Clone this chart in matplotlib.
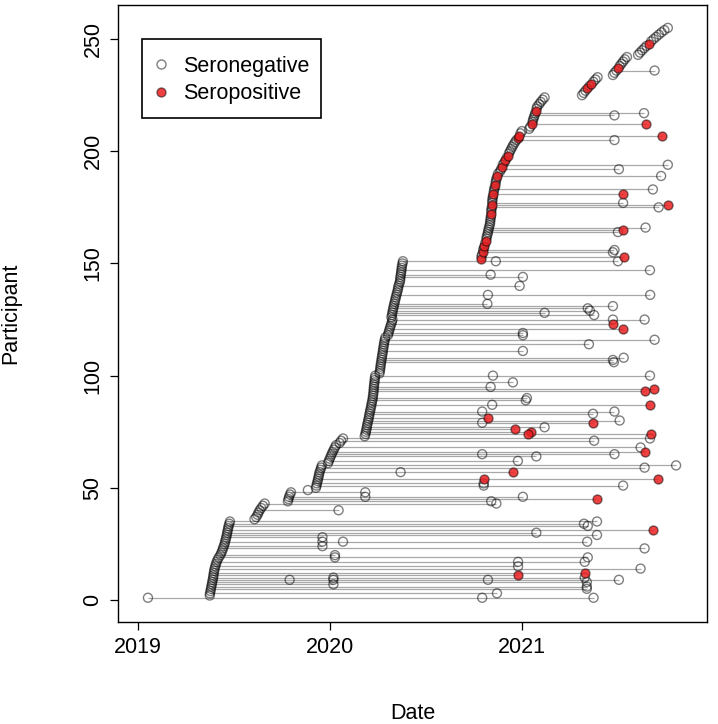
import numpy as np
import matplotlib.pyplot as plt
from matplotlib.lines import Line2D
from matplotlib.patches import Rectangle

plt.rcParams['font.family'] = ['Liberation Sans', 'DejaVu Sans']

# first visit (decimal year) of participants 1..255
baseline = [
    2019.052,
    2019.374, 2019.375, 2019.378, 2019.380, 2019.382, 2019.385, 2019.387, 2019.389, 2019.392, 2019.393, 2019.395, 2019.397, 2019.399,
    2019.403, 2019.406, 2019.410, 2019.415, 2019.421,
    2019.429, 2019.434, 2019.439, 2019.443, 2019.447, 2019.451, 2019.454, 2019.457, 2019.460, 2019.463, 2019.465, 2019.467, 2019.470, 2019.472, 2019.476, 2019.479,
    2019.607, 2019.616, 2019.623, 2019.628, 2019.634, 2019.642, 2019.651, 2019.660,
    2019.781, 2019.784, 2019.787, 2019.792, 2019.797,
    2019.885,
    2019.927, 2019.930, 2019.932, 2019.936, 2019.938, 2019.941, 2019.943, 2019.946, 2019.950, 2019.954, 2019.958,
    2019.990, 2019.994, 2019.999, 2020.004, 2020.009, 2020.014, 2020.020, 2020.026, 2020.032,
    2020.050, 2020.058, 2020.068,
    2020.181,
    2020.185, 2020.187, 2020.190, 2020.192, 2020.194, 2020.197, 2020.199, 2020.202, 2020.204, 2020.206, 2020.209, 2020.211, 2020.214, 2020.216, 2020.218, 2020.221, 2020.223,
    2020.224, 2020.226, 2020.227, 2020.228, 2020.229, 2020.230, 2020.232, 2020.233, 2020.234, 2020.236,
    2020.258, 2020.260, 2020.262, 2020.263, 2020.265, 2020.266, 2020.269, 2020.270, 2020.272, 2020.274, 2020.276, 2020.277, 2020.280, 2020.281, 2020.283, 2020.286, 2020.288,
    2020.302, 2020.305, 2020.308, 2020.312, 2020.315, 2020.319, 2020.323, 2020.326,
    2020.320, 2020.323, 2020.325, 2020.327, 2020.330, 2020.332, 2020.335, 2020.338,
    2020.341, 2020.343, 2020.347, 2020.349, 2020.353, 2020.355, 2020.357, 2020.361, 2020.365,
    2020.366, 2020.367, 2020.369, 2020.371, 2020.372, 2020.374, 2020.375, 2020.378, 2020.380,
    2020.786, 2020.789, 2020.792, 2020.795, 2020.798, 2020.802, 2020.804, 2020.808, 2020.813,
    2020.815, 2020.817, 2020.821, 2020.823, 2020.826, 2020.828, 2020.832,
    2020.834, 2020.835, 2020.837, 2020.838, 2020.839, 2020.840, 2020.841, 2020.843, 2020.844, 2020.845, 2020.846, 2020.847, 2020.849,
    2020.851, 2020.853, 2020.856, 2020.858, 2020.861, 2020.863, 2020.865, 2020.868, 2020.871, 2020.875,
    2020.886, 2020.891, 2020.895, 2020.900,
    2020.908, 2020.914, 2020.920, 2020.926, 2020.932, 2020.938, 2020.944, 2020.950, 2020.956, 2020.964, 2020.971, 2020.978, 2020.985, 2020.992, 2021.000,
    2021.038, 2021.044, 2021.050, 2021.055, 2021.058, 2021.062, 2021.066, 2021.069, 2021.073, 2021.076, 2021.080,
    2021.090, 2021.098, 2021.108, 2021.118,
    2021.313, 2021.322, 2021.331, 2021.341, 2021.351, 2021.361, 2021.372, 2021.383, 2021.394,
    2021.474, 2021.482, 2021.492, 2021.500, 2021.509, 2021.518, 2021.527, 2021.536, 2021.547,
    2021.605, 2021.615, 2021.626, 2021.638, 2021.649, 2021.661, 2021.673, 2021.686, 2021.699, 2021.713, 2021.727, 2021.742, 2021.760,
]

# participants already seropositive at the first visit
baseline_pos = [152, 155, 158, 160, 172, 176, 181, 185, 189, 193, 196, 198,
                206, 207, 212, 218, 228, 230, 237, 248]

# later visits: participant, date, serostatus (1 = positive)
fu_pid = [236, 216, 217, 212, 207, 205, 194, 192, 189, 183, 181, 177, 175, 176,
          166, 165, 164, 156, 155, 153, 151, 151, 147, 145, 144, 140, 136, 136,
          132, 131, 130, 129, 128, 127, 125, 125, 123, 121, 119, 118, 116, 114,
          111, 108, 107, 106, 100, 100, 97, 95, 94, 93, 90, 89, 87, 87,
          84, 84, 83, 81, 80, 79, 79, 77, 76, 75, 74, 74, 72, 71,
          68, 66, 65, 65, 64, 62, 60, 59, 57, 57, 54, 54, 52, 51, 51,
          48, 46, 46, 45, 44, 43, 40, 35, 34, 33, 31, 30, 29, 28,
          26, 26, 26, 24, 23, 20, 19, 19, 17, 17, 15, 14, 12, 11,
          10, 10, 9, 9, 9, 9, 8, 7, 6, 5, 3, 1, 1]
fu_date = [2021.691, 2021.482, 2021.636, 2021.644, 2021.729, 2021.482, 2021.760, 2021.505, 2021.725, 2021.682, 2021.527, 2021.527, 2021.712, 2021.760,
           2021.644, 2021.527, 2021.500, 2021.482, 2021.474, 2021.531, 2020.864, 2021.500, 2021.667, 2020.837, 2021.005, 2020.988, 2021.668, 2020.823,
           2020.820, 2021.474, 2021.343, 2021.354, 2021.118, 2021.376, 2021.474, 2021.639, 2021.474, 2021.527, 2021.005, 2021.005, 2021.691, 2021.349,
           2021.005, 2021.530, 2021.474, 2021.479, 2020.849, 2021.667, 2020.953, 2020.837, 2021.687, 2021.639, 2021.026, 2021.020, 2020.845, 2021.667,
           2020.793, 2021.482, 2021.370, 2020.823, 2021.509, 2020.793, 2021.370, 2021.118, 2020.962, 2021.045, 2021.032, 2021.670, 2021.667, 2021.376,
           2021.618, 2021.643, 2020.793, 2021.482, 2021.075, 2020.979, 2021.803, 2021.639, 2020.368, 2020.953, 2020.801, 2021.709, 2020.801, 2020.801, 2021.527,
           2020.184, 2020.184, 2021.005, 2021.391, 2020.840, 2020.867, 2020.045, 2021.391, 2021.323, 2021.343, 2021.682, 2021.075, 2021.391, 2019.961,
           2019.961, 2020.068, 2021.340, 2019.961, 2021.639, 2020.026, 2020.026, 2021.343, 2020.980, 2021.327, 2020.980, 2021.618, 2021.327, 2020.980,
           2020.018, 2021.327, 2019.790, 2020.018, 2020.823, 2021.505, 2021.338, 2020.018, 2021.338, 2021.338, 2020.870, 2020.793, 2021.373]
fu_pos = [0, 0, 0, 1, 1, 0, 0, 0, 0, 0, 1, 0, 0, 1,
          0, 1, 0, 0, 0, 1, 0, 0, 0, 0, 0, 0, 0, 0,
          0, 0, 0, 0, 0, 0, 0, 0, 1, 1, 0, 0, 0, 0,
          0, 0, 0, 0, 0, 0, 0, 0, 1, 1, 0, 0, 0, 1,
          0, 0, 0, 1, 0, 0, 1, 0, 1, 1, 1, 1, 0, 0,
          0, 1, 0, 0, 0, 0, 0, 0, 0, 1, 1, 1, 0, 0, 0,
          0, 0, 0, 1, 0, 0, 0, 0, 0, 0, 1, 0, 0, 0,
          0, 0, 0, 0, 0, 0, 0, 0, 0, 0, 0, 0, 1, 1,
          0, 0, 0, 0, 0, 0, 0, 0, 0, 0, 0, 0, 0]

pid = np.arange(1, len(baseline) + 1)
base = np.array(baseline)
fp = np.array(fu_pid)
fd = np.array(fu_date)
fs = np.array(fu_pos)

# line from first to last visit
last = base.copy()
for p, d in zip(fp, fd):
    last[p - 1] = max(last[p - 1], d)

base_flag = np.isin(pid, baseline_pos).astype(int)
all_id = np.concatenate([pid, fp])
all_date = np.concatenate([base, fd])
all_pos = np.concatenate([base_flag, fs])

fig = plt.figure(figsize=(7.18, 7.24), dpi=100)
ax = fig.add_axes([118 / 718, 102 / 724, 589 / 718, 617 / 724])

edge = (0, 0, 0, 0.5)
red = (0.92, 0.12, 0.13, 0.85)
ax.hlines(pid, base, last, color='#a8a8a8', lw=0.9, zorder=1)
neg = all_pos == 0
ax.scatter(all_date[neg], all_id[neg], s=42, facecolors='none',
           edgecolors=[edge], linewidths=1.0, zorder=2)
ax.scatter(all_date[~neg], all_id[~neg], s=42, facecolors=[red],
           edgecolors=[edge], linewidths=1.0, zorder=3)

ax.set_xlim(2018.896, 2021.964)
ax.set_ylim(-9.8, 265.2)
ax.set_xticks([2019, 2020, 2021])
ax.set_xticklabels(['2019', '2020', '2021'])
ax.set_yticks([0, 50, 100, 150, 200, 250])
ax.set_yticklabels(['0', '50', '100', '150', '200', '250'], rotation=90, va='center')
ax.tick_params(direction='out', length=5.5, width=0.9, labelsize=15.5, pad=5)
for s in ax.spines.values():
    s.set_linewidth(1.0)

ax.set_xlabel('Date', fontsize=15.5, labelpad=33)
ax.set_ylabel('Participant', fontsize=15.5, labelpad=44)

handles = [Line2D([], [], ls='none', marker='o', ms=6.5, mfc='none', mec=edge, mew=1.0),
           Line2D([], [], ls='none', marker='o', ms=6.5, mfc=red, mec=edge, mew=1.0)]
ax.legend(handles, ['Seronegative', 'Seropositive'], loc='upper left',
          bbox_to_anchor=(142 / 718, (724 - 45) / 724), bbox_transform=fig.transFigure,
          frameon=False, borderpad=0.5, labelspacing=0.3, handlelength=0.8,
          handletextpad=0.6, borderaxespad=0, fontsize=15.5)
# R-style legend box, taller than matplotlib's own frame
fig.add_artist(Rectangle((142 / 718, (724 - 118) / 724), 179 / 718, 79 / 724,
                         transform=fig.transFigure, fill=False, ec='black', lw=1.2, zorder=5))

fig.savefig('out.png', dpi=100)
